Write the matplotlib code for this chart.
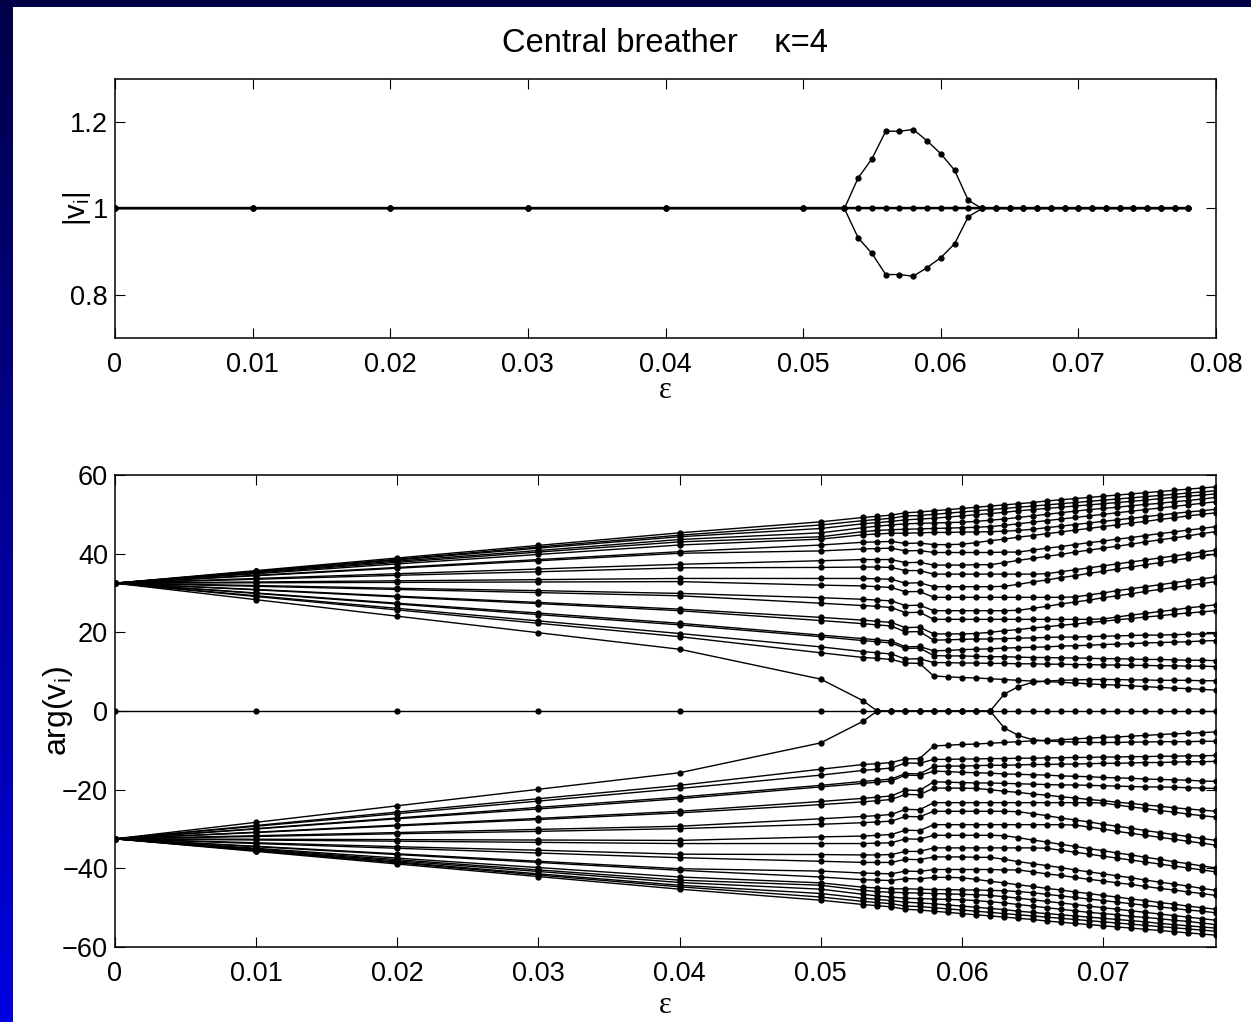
"""Central breather, kappa=4: |v_i| and arg(v_i) versus epsilon."""
import matplotlib
matplotlib.use("Agg")
import matplotlib.pyplot as plt
import numpy as np
from matplotlib.colors import LinearSegmentedColormap
from matplotlib.patches import Rectangle

plt.rcParams["font.family"] = ["Liberation Sans", "DejaVu Sans"]
plt.rcParams["mathtext.fontset"] = "custom"
plt.rcParams["mathtext.rm"] = "Liberation Sans"
plt.rcParams["mathtext.it"] = "Liberation Sans"

# continuation steps in epsilon
eps = [0.0, 0.01, 0.02, 0.03, 0.04, 0.05, 0.053, 0.054, 0.055, 0.056, 0.057,
       0.058, 0.059, 0.060, 0.061, 0.062, 0.063, 0.064, 0.065, 0.066, 0.067,
       0.068, 0.069, 0.070, 0.071, 0.072, 0.073, 0.074, 0.075, 0.076, 0.077,
       0.078]

# |v_i| : all sites stay at 1 except one pair that opens a bubble
amp_flat = [1.0] * len(eps)
amp_upper = [1, 1, 1, 1, 1, 1, 1.0, 1.071, 1.115, 1.179, 1.179, 1.183, 1.157,
             1.127, 1.089, 1.019, 1, 1, 1, 1, 1, 1, 1, 1, 1, 1, 1, 1, 1, 1, 1, 1]
amp_lower = [1, 1, 1, 1, 1, 1, 1.0, 0.932, 0.896, 0.847, 0.847, 0.843, 0.863,
             0.886, 0.918, 0.981, 1, 1, 1, 1, 1, 1, 1, 1, 1, 1, 1, 1, 1, 1, 1, 1]

# arg(v_i), upper bundle (the lower bundle is its mirror image)
phase_upper = [
    [32.5, 35.7, 38.9, 42.1, 45.3, 48.1, 49.2, 49.5, 49.8, 50.4, 50.6, 50.9, 51.2, 51.5, 51.8, 52.1,
     52.4, 52.7, 53.0, 53.4, 53.7, 54.0, 54.3, 54.6, 54.9, 55.2, 55.5, 55.8, 56.1, 56.4, 56.7, 57.0],
    [32.5, 35.5, 38.6, 41.7, 44.7, 47.3, 48.4, 48.7, 49.0, 49.6, 49.7, 50.0, 50.3, 50.6, 50.9, 51.2,
     51.5, 51.8, 52.1, 52.4, 52.7, 53.0, 53.3, 53.6, 53.9, 54.2, 54.5, 54.8, 55.1, 55.4, 55.7, 56.0],
    [32.5, 35.5, 38.4, 41.4, 44.3, 46.4, 47.6, 47.9, 48.2, 48.6, 48.8, 49.0, 49.3, 49.6, 49.9, 50.2,
     50.5, 50.9, 51.2, 51.5, 51.8, 52.1, 52.4, 52.7, 53.0, 53.3, 53.6, 54.0, 54.3, 54.6, 54.9, 55.2],
    [32.5, 35.3, 38.1, 40.8, 43.6, 45.3, 46.6, 47.0, 47.3, 47.6, 47.7, 47.8, 47.9, 48.0, 48.2, 48.5,
     48.8, 49.2, 49.6, 50.0, 50.4, 50.8, 51.2, 51.5, 51.8, 52.2, 52.5, 52.8, 53.2, 53.5, 53.9, 54.3],
    [32.5, 35.1, 37.8, 40.4, 43.0, 44.3, 45.6, 45.9, 46.1, 46.2, 46.3, 46.4, 46.5, 46.6, 46.7, 46.9,
     47.2, 47.6, 48.0, 48.4, 48.8, 49.2, 49.6, 50.0, 50.4, 50.8, 51.2, 51.6, 52.0, 52.4, 52.8, 53.2],
    [32.5, 34.9, 37.4, 39.8, 42.2, 43.7, 44.8, 45.0, 45.2, 45.2, 45.3, 45.4, 45.4, 45.5, 45.5, 45.6,
     45.7, 45.9, 46.2, 46.6, 47.0, 47.4, 47.8, 48.2, 48.6, 49.0, 49.4, 49.8, 50.2, 50.6, 50.9, 51.3],
    [32.5, 34.5, 36.5, 38.5, 40.5, 42.2, 42.9, 43.0, 43.1, 42.6, 42.7, 42.3, 42.3, 42.4, 42.8, 43.3,
     43.7, 44.2, 44.6, 45.1, 45.5, 46.0, 46.4, 46.9, 47.3, 47.8, 48.2, 48.7, 49.1, 49.6, 50.0, 50.4],
    [32.5, 34.4, 36.3, 38.2, 40.1, 40.7, 41.2, 41.3, 41.4, 40.7, 40.8, 40.3, 40.3, 40.3, 40.3, 40.3,
     40.4, 40.4, 40.9, 41.4, 41.8, 42.3, 42.8, 43.2, 43.7, 44.1, 44.6, 45.1, 45.5, 46.0, 46.4, 46.9],
    [32.5, 33.7, 34.9, 36.1, 37.3, 38.2, 38.5, 38.5, 38.5, 37.7, 37.8, 37.1, 37.1, 37.1, 37.2, 37.2,
     37.7, 38.3, 38.8, 39.3, 39.8, 40.4, 40.9, 41.4, 41.9, 42.4, 43.0, 43.5, 44.0, 44.5, 45.1, 45.6],
    [32.5, 33.5, 34.5, 35.4, 36.4, 36.5, 36.6, 36.6, 36.5, 35.7, 35.7, 34.8, 34.8, 34.8, 34.8, 34.8,
     34.8, 34.8, 34.8, 34.9, 35.4, 35.9, 36.4, 36.9, 37.4, 37.9, 38.4, 38.9, 39.4, 39.9, 40.4, 40.9],
    [32.5, 32.8, 33.1, 33.4, 33.7, 33.7, 33.7, 33.6, 33.5, 32.5, 32.6, 31.6, 31.6, 31.6, 31.6, 31.6,
     31.7, 32.2, 32.8, 33.3, 33.9, 34.4, 35.0, 35.5, 36.1, 36.6, 37.2, 37.7, 38.3, 38.8, 39.4, 39.9],
    [32.5, 32.6, 32.7, 32.8, 32.9, 32.0, 31.8, 31.6, 31.4, 30.3, 30.4, 28.9, 28.9, 28.9, 28.9, 28.9,
     28.9, 28.9, 28.9, 28.9, 28.9, 29.0, 29.5, 30.0, 30.6, 31.1, 31.6, 32.1, 32.6, 33.1, 33.6, 34.1],
    [32.5, 31.9, 31.2, 30.6, 29.9, 28.8, 28.4, 28.2, 28.0, 26.8, 26.9, 25.5, 25.5, 25.5, 25.5, 25.5,
     25.5, 25.6, 26.1, 26.6, 27.2, 27.7, 28.2, 28.8, 29.3, 29.8, 30.4, 30.9, 31.4, 31.9, 32.4, 32.9],
    [32.5, 31.7, 30.9, 30.1, 29.3, 27.4, 26.8, 26.6, 26.3, 25.0, 25.1, 23.3, 23.3, 23.3, 23.3, 23.3,
     23.3, 23.3, 23.3, 23.3, 23.3, 23.3, 23.3, 23.4, 23.9, 24.4, 24.8, 25.3, 25.7, 26.2, 26.6, 27.0],
    [32.5, 30.9, 29.2, 27.6, 25.9, 23.8, 23.1, 22.8, 22.5, 21.2, 21.3, 19.6, 19.6, 19.6, 19.7, 20.0,
     20.4, 20.7, 21.1, 21.4, 21.8, 22.1, 22.5, 22.8, 23.2, 23.5, 23.9, 24.2, 24.6, 24.9, 25.2, 25.5],
    [32.5, 30.8, 29.0, 27.3, 25.5, 23.0, 22.2, 21.9, 21.6, 20.1, 20.2, 18.0, 18.1, 18.2, 18.3, 18.3,
     18.4, 18.5, 18.6, 18.7, 18.8, 18.8, 18.9, 19.0, 19.1, 19.2, 19.3, 19.3, 19.4, 19.5, 19.6, 19.7],
    [32.5, 30.0, 27.4, 24.9, 22.3, 19.3, 18.4, 18.1, 17.8, 16.3, 16.4, 15.3, 15.4, 15.6, 15.7, 15.8,
     16.0, 16.1, 16.2, 16.3, 16.5, 16.6, 16.7, 16.9, 17.0, 17.1, 17.3, 17.4, 17.5, 17.6, 17.8, 17.9],
    [32.5, 29.9, 27.2, 24.5, 21.9, 18.9, 17.9, 17.6, 17.3, 15.9, 16.0, 14.1, 14.0, 14.0, 13.9, 13.8,
     13.8, 13.7, 13.6, 13.6, 13.5, 13.5, 13.4, 13.3, 13.3, 13.2, 13.1, 13.1, 13.0, 12.9, 12.9, 12.8],
    [32.5, 29.3, 26.1, 22.9, 19.7, 16.3, 15.1, 14.8, 14.5, 13.2, 13.3, 12.3, 12.3, 12.2, 12.2, 12.1,
     12.1, 12.0, 12.0, 11.9, 11.9, 11.8, 11.8, 11.7, 11.7, 11.6, 11.6, 11.5, 11.5, 11.4, 11.4, 11.3],
    [32.5, 29.1, 25.7, 22.3, 18.9, 14.8, 13.6, 13.4, 13.1, 12.2, 12.1, 8.9, 8.7, 8.5, 8.4, 8.2,
     8.0, 7.8, 7.6, 7.5, 7.3, 7.1, 6.9, 6.7, 6.6, 6.4, 6.2, 6.0, 5.8, 5.7, 5.5, 5.3],
    # site that collapses onto the centre and splits off again
    [32.5, 28.3, 24.1, 19.9, 15.7, 8.1, 2.6, 0.0, 0.0, 0.0, 0.0, 0.0, 0.0, 0.0, 0.0, 0.0,
     4.3, 6.2, 7.3, 7.6, 7.8, 7.9, 8.0, 8.0, 8.0, 7.9, 7.9, 7.8, 7.8, 7.8, 7.7, 7.7],
]
phase_centre = [0.0] * len(eps)

FS = 19.5
line_kw = dict(color="black", lw=1.0, marker="o", ms=3.5, mfc="black", mec="black")

fig = plt.figure(figsize=(12.51, 10.22), dpi=100)
fig.patch.set_facecolor("white")

# slide-style blue frame (top band + left gradient strip)
bg = fig.add_axes([0, 0, 1, 1], zorder=-10)
bg.axis("off")
cmap = LinearSegmentedColormap.from_list("frame", ["#0000e0", "#000048"])
grad = np.linspace(0, 1, 256)[:, None]
bg.imshow(grad, extent=[0, 12.5 / 1251, 0, 1], origin="lower", cmap=cmap,
          aspect="auto")
bg.add_patch(Rectangle((0, 1 - 7 / 1022), 1, 7 / 1022, color="#000048", lw=0))
bg.set_xlim(0, 1)
bg.set_ylim(0, 1)


def style(ax):
    ax.tick_params(direction="in", length=7, width=0.8, top=True, right=True,
                   labelsize=FS)
    ax.tick_params(axis="y", pad=5)
    ax.tick_params(axis="x", pad=10)
    for sp in ax.spines.values():
        sp.set_linewidth(1.1)


# --- top: |v_i| ---
ax1 = fig.add_axes([115 / 1251, 1 - 338 / 1022, 1101 / 1251, 259 / 1022])
ax1.plot(eps, amp_flat, **line_kw)
ax1.plot(eps, amp_flat, color="black", lw=1.7)
ax1.plot(eps, amp_upper, **line_kw)
ax1.plot(eps, amp_lower, **line_kw)
ax1.set_xlim(0, 0.08)
ax1.set_ylim(0.7, 1.3)
ax1.set_xticks([0, 0.01, 0.02, 0.03, 0.04, 0.05, 0.06, 0.07, 0.08])
ax1.set_xticklabels(["0", "0.01", "0.02", "0.03", "0.04", "0.05", "0.06", "0.07", "0.08"])
ax1.set_yticks([0.8, 1.0, 1.2])
ax1.set_yticklabels(["0.8", "1", "1.2"])
style(ax1)

# --- bottom: arg(v_i) ---
ax2 = fig.add_axes([115 / 1251, 1 - 947 / 1022, 1101 / 1251, 472 / 1022])
for row in phase_upper:
    ax2.plot(eps, row, **line_kw)
    ax2.plot(eps, [-v for v in row], **line_kw)
ax2.plot(eps, phase_centre, **line_kw)
ax2.set_xlim(0, 0.078)
ax2.set_ylim(-60, 60)
ax2.set_xticks([0, 0.01, 0.02, 0.03, 0.04, 0.05, 0.06, 0.07])
ax2.set_xticklabels(["0", "0.01", "0.02", "0.03", "0.04", "0.05", "0.06", "0.07"])
ax2.set_yticks([-60, -40, -20, 0, 20, 40, 60])
style(ax2)

# labels
fig.text(665 / 1251, 1 - 43 / 1022, "Central breather    \u03ba=4", ha="center",
         va="center", fontsize=23.5)
serif = ["Liberation Serif", "DejaVu Serif"]
fig.text(665 / 1251, 1 - 390 / 1022, "\u03b5", ha="center", va="center",
         fontsize=22, family=serif)
fig.text(665 / 1251, 1 - 1005 / 1022, "\u03b5", ha="center", va="center",
         fontsize=22, family=serif)
fig.text(77 / 1251, 1 - 209 / 1022, r"$|\mathrm{v}_\mathrm{i}|$", ha="center",
         va="center", rotation=90, fontsize=21)
fig.text(58 / 1251, 1 - 711 / 1022, r"$\mathrm{arg(v}_\mathrm{i}\mathrm{)}$",
         ha="center", va="center", rotation=90, fontsize=23)

fig.savefig("out.png", dpi=100)
